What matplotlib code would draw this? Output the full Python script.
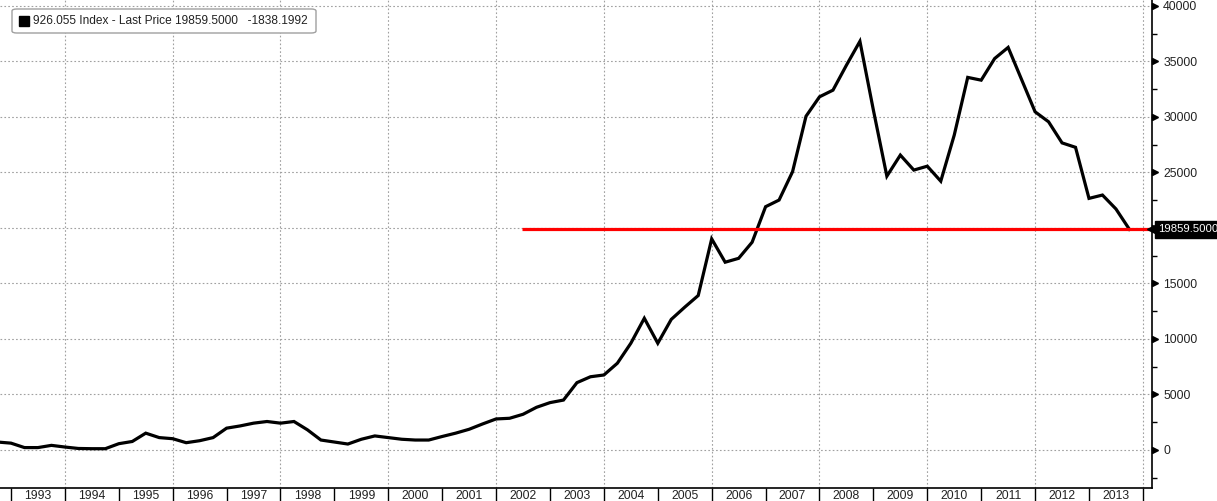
import numpy as np
import matplotlib
matplotlib.use("Agg")
import matplotlib.pyplot as plt
import matplotlib.transforms as mtransforms
from matplotlib.patches import FancyBboxPatch, Rectangle
from matplotlib.ticker import MultipleLocator, FixedLocator, NullFormatter, FixedFormatter

plt.rcParams['font.family'] = ['Liberation Sans', 'DejaVu Sans']

# quarterly closes, 1992 Q3 .. 2013 Q3 (x = quarter end as decimal year)
quarters = np.arange(1992.75, 2013.76, 0.25)
prices = [
    700,
    600, 200, 200, 400,
    250, 120, 100, 100,
    550, 750, 1500, 1100,
    1000, 640, 820, 1100,
    1950, 2150, 2400, 2550,
    2400, 2550, 1800, 880,
    700, 520, 950, 1250,
    1100, 950, 880, 880,
    1200, 1500, 1850, 2330,
    2780, 2840, 3200, 3830,
    4250, 4480, 6050, 6580,
    6740, 7800, 9600, 11850,
    9600, 11750, 12850, 13900,
    19000, 16900, 17250, 18700,
    21900, 22500, 25050, 30050,
    31800, 32400, 34650, 36800,
    30600, 24650, 26550, 25200,
    25550, 24200, 28350, 33550,
    33300, 35250, 36250, 33350,
    30450, 29550, 27650, 27250,
    22650, 22950, 21698, 19859.5,
]
years = list(range(1993, 2014))
last_price = 19859.5
change = -1838.1992
ref_start = 2002.48
y_ticks = list(range(0, 40001, 5000))

fig = plt.figure(figsize=(12.17, 5.01), dpi=100)
ax = fig.add_axes([0, 13 / 501, 1152 / 1217, 488 / 501])

ax.set_xlim(1992.796, 2014.169)
ax.set_ylim(-3441, 40522)

# grid
for yv in y_ticks:
    ax.axhline(yv, color='#a0a0a0', lw=0.8, ls=(0, (1.5, 2)), zorder=1)
for yr in range(1994, 2015, 2):
    ax.axvline(yr, color='#a0a0a0', lw=0.8, ls=(0, (1.5, 2)), zorder=1)

ax.plot(quarters, prices, color='black', lw=2.3, zorder=3, solid_joinstyle='miter')
ax.hlines(last_price, ref_start, ax.get_xlim()[1], color='#ff0000', lw=2.3, zorder=4)

# spines
for s in ['top', 'left']:
    ax.spines[s].set_visible(False)
ax.spines['right'].set_linewidth(1.2)
ax.spines['bottom'].set_linewidth(1.2)

# y axis on the right (20000 sits under the last-price tag)
ax.yaxis.tick_right()
ax.set_yticks(y_ticks)
ax.set_yticklabels(['' if v == 20000 else str(v) for v in y_ticks])
ax.yaxis.set_minor_locator(MultipleLocator(2500))
ax.tick_params(axis='y', which='major', length=0, pad=8, labelsize=8.8, colors='#222222')
ax.tick_params(axis='y', which='minor', length=3.5, width=1, right=True, left=False, color='black')

trans = mtransforms.blended_transform_factory(ax.transAxes, ax.transData)
tri_trans = mtransforms.offset_copy(trans, fig=fig, x=3, y=0, units='dots')
ax.plot([1] * len(y_ticks), y_ticks, ls='none', marker='>', ms=5, color='black',
        transform=tri_trans, clip_on=False, zorder=5)

# x axis: year separators and centred labels
ax.xaxis.set_major_locator(FixedLocator(years + [2014]))
ax.xaxis.set_major_formatter(NullFormatter())
ax.xaxis.set_minor_locator(FixedLocator([y + 0.5 for y in years]))
ax.xaxis.set_minor_formatter(FixedFormatter([str(y) for y in years]))
ax.tick_params(axis='x', which='major', length=10, width=1, direction='out', color='black')
ax.tick_params(axis='x', which='minor', length=0, pad=1.5, labelsize=8.8, labelcolor='#222222')
ax.get_xaxis().get_major_ticks()[-1].tick1line.set_linestyle(':')

# last price tag
ax.plot([1], [last_price], marker='<', ms=11, color='black', transform=tri_trans,
        clip_on=False, zorder=6)
ax.text(1, last_price, '19859.5000', transform=mtransforms.offset_copy(trans, fig=fig, x=6, y=0, units='dots'),
        ha='left', va='center', color='white', fontsize=8.2, zorder=7, clip_on=False,
        bbox=dict(boxstyle='square,pad=0.3', fc='black', ec='black'))

# legend box
fig.patches.append(FancyBboxPatch((12 / 1217, 1 - 33 / 501), 304 / 1217, 24 / 501,
                                  boxstyle='round,pad=0,rounding_size=0.004',
                                  transform=fig.transFigure, fc='white', ec='#a0a0a0', lw=1, zorder=10))
fig.patches.append(Rectangle((19 / 1217, 1 - 26 / 501), 10 / 1217, 10 / 501,
                             transform=fig.transFigure, fc='black', ec='black', zorder=11))
fig.text(33 / 1217, 1 - 21 / 501,
         f'926.055 Index - Last Price {last_price:.4f}   {change:.4f}',
         ha='left', va='center', fontsize=8.6, color='#222222', zorder=12)

fig.savefig('out.png', dpi=100, facecolor='white')
